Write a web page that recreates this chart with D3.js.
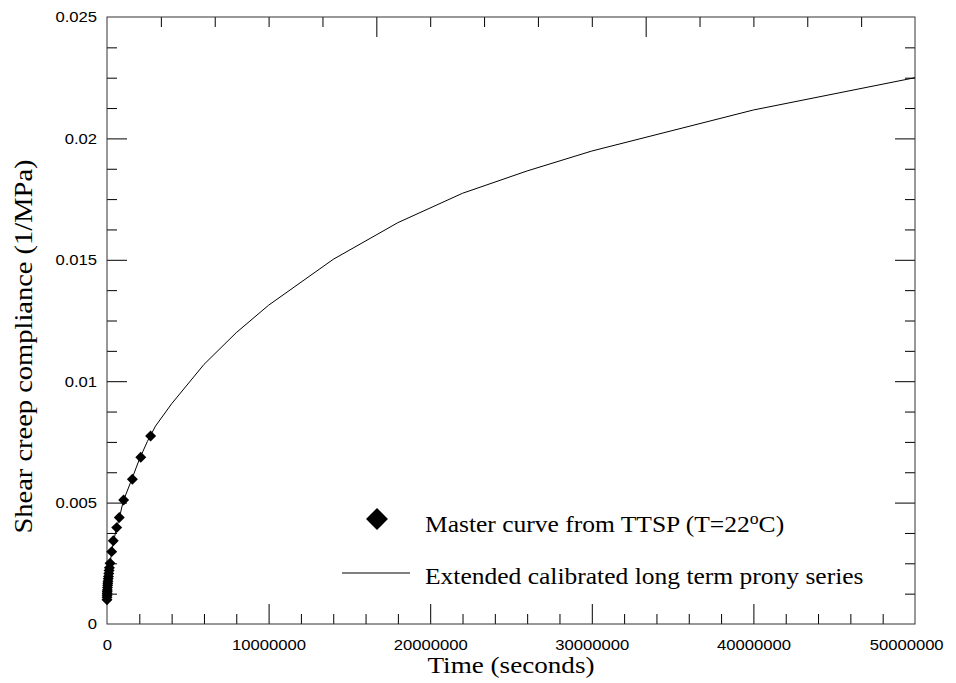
<!DOCTYPE html>
<html>
<head>
<meta charset="utf-8">
<script src="https://cdn.jsdelivr.net/npm/d3@7"></script>
<style>
  html, body { margin: 0; padding: 0; background: #fff; }
  svg { display: block; }
  .tick-label { font-family: "Liberation Sans", Arial, sans-serif; font-size: 15px; fill: #000; }
  .serif { font-family: "Liberation Serif", "Times New Roman", serif; fill: #000; }
</style>
</head>
<body>
<svg id="chart" width="956" height="683"></svg>
<script>
// Master curve built by time-temperature superposition (T = 22 °C)
const masterTime = [0, 2000, 5000, 10000, 15000, 20000, 30000, 40000, 50000, 60000, 75000, 90000,
  110000, 130000, 150000, 190000, 290000, 390000, 600000, 760000, 1030000, 1570000, 2090000, 2700000];
const masterCompliance = [0.00100, 0.00110, 0.00118, 0.00126, 0.00133, 0.00140, 0.00150, 0.00160,
  0.00168, 0.00176, 0.00186, 0.00196, 0.00208, 0.00220, 0.00232, 0.00250, 0.00298, 0.00343,
  0.00397, 0.00439, 0.00511, 0.00596, 0.00687, 0.00774];

// Extended calibrated long-term Prony series
const pronyTime = [0, 50000, 100000, 200000, 300000, 400000, 600000, 800000, 1000000, 1500000,
  2000000, 2500000, 3000000, 4000000, 6000000, 8000000, 10000000, 14000000, 18000000,
  22000000, 26000000, 30000000, 40000000, 50000000];
const pronyCompliance = [0.00100, 0.00190, 0.00220, 0.00255, 0.00300, 0.00340, 0.00397, 0.00447,
  0.00505, 0.00590, 0.00678, 0.00752, 0.00815, 0.00907, 0.01069, 0.01200, 0.01313, 0.01502,
  0.01653, 0.01774, 0.01866, 0.01948, 0.02117, 0.02250];

// Axis ticks
const xMajorTicks = [0, 10000000, 20000000, 30000000, 40000000, 50000000];
const xTickLabels = ["0", "10000000", "20000000", "30000000", "40000000", "50000000"];
const yMajorTicks = [0, 0.005, 0.01, 0.015, 0.02, 0.025];
const yTickLabels = ["0", "0.005", "0.01", "0.015", "0.02", "0.025"];

const legendLabels = ["Master curve from TTSP (T=22", "Extended calibrated long term prony series"];

const margin = { left: 107, top: 17, right: 41, bottom: 59 };
const W = 956, H = 683;
const iw = W - margin.left - margin.right;
const ih = H - margin.top - margin.bottom;
const stretch = 1.11;   // glyphs are set slightly wide

const svg = d3.select("#chart");
const g = svg.append("g").attr("transform", `translate(${margin.left},${margin.top})`);

const x = d3.scaleLinear().domain([0, 50000000]).range([0, iw]);
const y = d3.scaleLinear().domain([0, 0.025]).range([ih, 0]);

// Tick sets
const xMinor = d3.range(0, 50000001, 2000000).filter(v => v % 10000000 !== 0);
const topTicks = d3.range(1, 15).map(i => i * 50000000 / 15);
const topMajor = topTicks.filter((v, i) => (i + 1) % 5 === 0);
const topMinor = topTicks.filter((v, i) => (i + 1) % 5 !== 0);
const yMinor = d3.range(0, 21).map(i => i * 0.00125).filter((v, i) => i % 4 !== 0);

function tickAxis(axisFn, scale, values, size) {
  return axisFn(scale).tickValues(values).tickSize(size).tickFormat("");
}
function styleTicks(sel) {
  sel.select(".domain").remove();
  sel.selectAll(".tick line").attr("stroke", "#000").attr("stroke-width", 1);
}

// Bottom axis (ticks pointing inward)
g.append("g").attr("transform", `translate(0,${ih})`)
  .call(tickAxis(d3.axisBottom, x, xMajorTicks.slice(1, -1), -20)).call(styleTicks);
g.append("g").attr("transform", `translate(0,${ih})`)
  .call(tickAxis(d3.axisBottom, x, xMinor, -10)).call(styleTicks);
// Top axis
g.append("g").call(tickAxis(d3.axisTop, x, topMajor, -20)).call(styleTicks);
g.append("g").call(tickAxis(d3.axisTop, x, topMinor, -10)).call(styleTicks);
// Left axis
g.append("g").call(tickAxis(d3.axisLeft, y, yMajorTicks.slice(1, -1), -20)).call(styleTicks);
g.append("g").call(tickAxis(d3.axisLeft, y, yMinor, -10)).call(styleTicks);
// Right axis
g.append("g").attr("transform", `translate(${iw},0)`)
  .call(tickAxis(d3.axisRight, y, yMajorTicks.slice(1, -1), -20)).call(styleTicks);
g.append("g").attr("transform", `translate(${iw},0)`)
  .call(tickAxis(d3.axisRight, y, yMinor, -10)).call(styleTicks);

// Tick labels
const xLab = g.append("g").attr("transform", `translate(0,${ih})`)
  .call(d3.axisBottom(x).tickValues(xMajorTicks).tickSize(0).tickPadding(15)
    .tickFormat((d, i) => xTickLabels[i]));
xLab.select(".domain").remove();
xLab.selectAll("text").attr("class", "tick-label").attr("font-family", null).attr("font-size", null)
  .attr("transform", `scale(${stretch},1)`);
// keep the last label inside the page
xLab.selectAll(".tick").filter(d => d === 50000000).select("text").attr("dx", "-8");

const yLab = g.append("g")
  .call(d3.axisLeft(y).tickValues(yMajorTicks).tickSize(0).tickPadding(9)
    .tickFormat((d, i) => yTickLabels[i]));
yLab.select(".domain").remove();
yLab.selectAll("text").attr("class", "tick-label").attr("font-family", null).attr("font-size", null)
  .attr("transform", `scale(${stretch},1)`);

// Frame
g.append("rect").attr("x", 0).attr("y", 0).attr("width", iw).attr("height", ih)
  .attr("fill", "none").attr("stroke", "#333").attr("stroke-width", 1);

// Prony series curve
const line = d3.line().x(d => x(d[0])).y(d => y(d[1]));
g.append("path")
  .datum(pronyTime.map((t, i) => [t, pronyCompliance[i]]))
  .attr("d", line).attr("fill", "none").attr("stroke", "#000").attr("stroke-width", 1);

// Master curve diamonds
const diamond = d3.symbol().type(d3.symbolSquare).size(60);
g.selectAll("path.master")
  .data(masterTime.map((t, i) => [t, masterCompliance[i]]))
  .join("path").attr("class", "master")
  .attr("d", diamond)
  .attr("transform", d => `translate(${x(d[0])},${y(d[1])}) rotate(45)`)
  .attr("fill", "#000");

// Legend
const legend = svg.append("g");
legend.append("path").attr("d", d3.symbol().type(d3.symbolSquare).size(240))
  .attr("transform", "translate(377,519) rotate(45)").attr("fill", "#000");
const t1 = legend.append("text").attr("class", "serif")
  .attr("transform", `translate(425,532) scale(${stretch},1)`)
  .attr("font-size", 23);
t1.append("tspan").text(legendLabels[0]);
t1.append("tspan").attr("font-size", 16).attr("dy", -8).text("o");
t1.append("tspan").attr("dy", 8).text("C)");
legend.append("line").attr("x1", 342).attr("x2", 410).attr("y1", 573).attr("y2", 573)
  .attr("stroke", "#000").attr("stroke-width", 1);
legend.append("text").attr("class", "serif")
  .attr("transform", `translate(425,584) scale(${stretch},1)`)
  .attr("font-size", 23).text(legendLabels[1]);

// Axis titles
svg.append("text").attr("class", "serif")
  .attr("transform", `translate(${margin.left + iw / 2},673) scale(1.18,1)`)
  .attr("text-anchor", "middle").attr("font-size", 23).text("Time (seconds)");
svg.append("text").attr("class", "serif")
  .attr("transform", `translate(32,346.5) rotate(-90) scale(1.14,1)`)
  .attr("text-anchor", "middle").attr("font-size", 25).text("Shear creep compliance (1/MPa)");
</script>
</body>
</html>
